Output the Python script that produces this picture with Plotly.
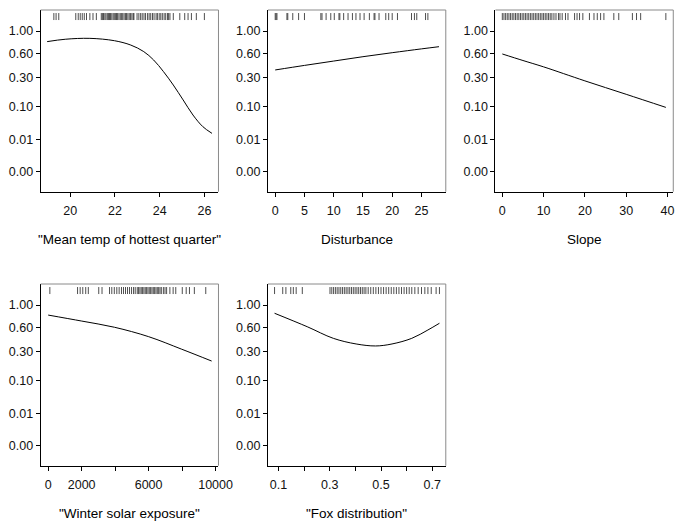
import plotly.graph_objects as go

# ---------------- data ----------------
# y axis: partial-effect scale (arbitrary units), labels are back-transformed probabilities
y_tick_vals = [1.10, 2.86, 4.70, 6.30, 7.62, 8.84]
y_tick_text = ["0.00", "0.01", "0.10", "0.30", "0.60", "1.00"]
y_range = [0, 10]
rug_level = 9.64

# Panel 1: Mean temp of hottest quarter
temp_x = [18.97, 19.78, 20.88, 21.98, 22.71, 23.29, 23.73, 24.17, 24.61, 25.05, 25.49, 25.93, 26.34]
temp_y = [8.26, 8.39, 8.44, 8.31, 8.07, 7.71, 7.25, 6.61, 5.87, 5.05, 4.22, 3.58, 3.21]
temp_rug = [19.27, 19.37, 19.49, 20.25, 20.36, 20.45, 20.54, 20.63, 20.73, 20.88, 21.02, 21.17,
            21.39, 21.44, 21.49, 21.55, 21.6, 21.66, 21.71, 21.76, 21.8, 21.86, 21.92, 21.97,
            22.02, 22.07, 22.12, 22.18, 22.24, 22.3, 22.35, 22.41, 22.47, 22.52, 22.58, 22.64,
            22.7, 22.76, 22.82, 22.85, 22.99, 23.07, 23.15, 23.22, 23.3, 23.37, 23.46, 23.53,
            23.6, 23.68, 23.75, 23.84, 23.9, 23.98, 24.05, 24.12, 24.2, 24.27, 24.35, 24.4,
            24.46, 24.61, 24.9, 25.12, 25.27, 25.42, 25.64, 26.0]
temp_ticks = [20, 22, 24, 26]
temp_ticktext = ["20", "22", "24", "26"]
temp_range = [18.68, 26.63]

# Panel 2: Disturbance
dist_x = [0, 5, 10, 15, 20, 25, 28]
dist_y = [6.70, 6.95, 7.19, 7.43, 7.65, 7.86, 7.98]
dist_rug = [0, 0.15, 0.3, 2, 2.15, 3, 4, 5, 7.8, 8, 8.7, 9.5, 10.1, 10.9, 11.05, 11.7, 12.45,
            13.2, 13.8, 14.5, 15.2, 16.1, 16.9, 17.05, 17.75, 18.9, 19.4, 20, 20.9, 23.3,
            23.8, 24.2, 25.7, 26.1]
dist_ticks = [0, 5, 10, 15, 20, 25]
dist_ticktext = ["0", "5", "10", "15", "20", "25"]
dist_range = [-1.24, 29.16]

# Panel 3: Slope
slope_x = [0, 5, 10, 20, 30, 39.6]
slope_y = [7.58, 7.22, 6.87, 6.10, 5.36, 4.64]
slope_rug = [0.0, 0.4, 0.8, 1.2, 1.6, 2.0, 2.4, 2.8, 3.2, 3.6, 4.0, 4.4, 4.8, 5.2, 5.6, 6.0,
             6.4, 6.8, 7.2, 7.6, 8.0, 8.4, 8.8, 9.2, 9.6, 10.0, 10.4, 10.8, 11.2, 11.6, 12.0,
             12.5, 13.0, 13.6, 13.96, 14.5, 15.3, 15.9, 17.5, 18.1, 18.7, 19.5, 21.1, 22.2,
             23.0, 23.8, 24.6, 27.0, 28.2, 31.5, 32.5, 33.5, 39.6]
slope_ticks = [0, 10, 20, 30, 40]
slope_ticktext = ["0", "10", "20", "30", "40"]
slope_range = [-1.66, 41.4]

# Panel 4: Winter solar exposure
solar_x = [0, 2006, 3957, 6006, 7953, 9766]
solar_y = [8.29, 7.96, 7.62, 7.10, 6.42, 5.76]
solar_rug = [99, 1754, 1910, 2066, 2242, 2398, 3021, 3216, 3665, 3800, 3950, 4100, 4240, 4380,
             4500, 4620, 4740, 4860, 4980, 5100, 5200, 5322, 5400, 5480, 5560, 5640, 5720,
             5800, 5880, 5960, 6040, 6120, 6200, 6280, 6360, 6440, 6520, 6600, 6680, 6760,
             6883, 6980, 7076, 7271, 7466, 7622, 8012, 8246, 8441, 8733, 9415]
solar_ticks = [0, 2000, 4000, 6000, 8000, 10000]
solar_ticktext = ["0", "2000", "", "6000", "", "10000"]
solar_range = [-450, 10175]

# Panel 5: Fox distribution
fox_x = [0.0847, 0.212, 0.314, 0.403, 0.479, 0.543, 0.620, 0.683, 0.728]
fox_y = [8.39, 7.65, 7.01, 6.70, 6.59, 6.70, 7.01, 7.47, 7.84]
fox_rug = [0.0847, 0.1166, 0.129, 0.148, 0.158, 0.169, 0.193, 0.301, 0.308, 0.315, 0.322,
           0.329, 0.336, 0.343, 0.35, 0.357, 0.364, 0.371, 0.378, 0.385, 0.392, 0.399, 0.406,
           0.413, 0.42, 0.427, 0.434, 0.441, 0.45, 0.46, 0.47, 0.48, 0.49, 0.5, 0.51, 0.52,
           0.53, 0.54, 0.55, 0.56, 0.57, 0.58, 0.59, 0.6, 0.61, 0.62, 0.632, 0.645, 0.658,
           0.671, 0.683, 0.696, 0.715, 0.728]
fox_ticks = [0.1, 0.2, 0.3, 0.4, 0.5, 0.6, 0.7]
fox_ticktext = ["0.1", "", "0.3", "", "0.5", "", "0.7"]
fox_range = [0.059, 0.7527]

titles = ['"Mean temp of hottest quarter"', "Disturbance", "Slope",
          '"Winter solar exposure"', '"Fox distribution"']

# ---------------- layout ----------------
W, H = 691, 522
col_left = [41.5, 273.5, 505.7]
panel_w = 181.5
row_top = [10, 284]
panel_h = 181.7

panels = [
    (temp_x, temp_y, temp_rug, temp_ticks, temp_ticktext, temp_range, 0, 0),
    (dist_x, dist_y, dist_rug, dist_ticks, dist_ticktext, dist_range, 0, 1),
    (slope_x, slope_y, slope_rug, slope_ticks, slope_ticktext, slope_range, 0, 2),
    (solar_x, solar_y, solar_rug, solar_ticks, solar_ticktext, solar_range, 1, 0),
    (fox_x, fox_y, fox_rug, fox_ticks, fox_ticktext, fox_range, 1, 1),
]

FONT = "Liberation Sans, Arial, Helvetica, sans-serif"
fig = go.Figure()
layout = dict(width=W, height=H, margin=dict(l=0, r=0, t=0, b=0),
              paper_bgcolor="white", plot_bgcolor="white", showlegend=False,
              font=dict(family=FONT, size=12, color="black"))
shapes = []
annotations = []

for i, (px, py, rug, tv, tt, xr, row, col) in enumerate(panels):
    n = "" if i == 0 else str(i + 1)
    xa, ya = "x" + n, "y" + n
    l = col_left[col]
    r = l + panel_w
    t = row_top[row]
    b = t + panel_h
    xdom = [l / W, r / W]
    ydom = [1 - b / H, 1 - t / H]
    layout["xaxis" + n] = dict(domain=xdom, anchor=ya, range=xr, tickvals=tv, ticktext=tt,
                               showgrid=False, zeroline=False, showline=True,
                               linecolor="black", linewidth=1, ticks="outside", ticklen=4,
                               tickcolor="black", ticklabelstandoff=3,
                               tickfont=dict(size=12.5, family=FONT, color="#111"))
    layout["yaxis" + n] = dict(domain=ydom, anchor=xa, range=y_range, tickvals=y_tick_vals,
                               ticktext=y_tick_text, showgrid=False, zeroline=False,
                               showline=True, linecolor="black", linewidth=1,
                               ticks="outside", ticklen=4, tickcolor="black",
                               tickfont=dict(size=12.5, family=FONT, color="#111"))
    # gray top/right frame
    shapes.append(dict(type="line", xref=xa + " domain", yref=ya + " domain",
                       x0=0, x1=1, y0=1, y1=1, line=dict(color="#8a8a8a", width=1)))
    shapes.append(dict(type="line", xref=xa + " domain", yref=ya + " domain",
                       x0=1, x1=1, y0=0, y1=1, line=dict(color="#8a8a8a", width=1)))
    fig.add_trace(go.Scatter(x=px, y=py, mode="lines", line=dict(color="black", width=1,
                             shape="spline", smoothing=1.0), xaxis=xa, yaxis=ya,
                             hoverinfo="skip"))
    fig.add_trace(go.Scatter(x=rug, y=[rug_level] * len(rug), mode="markers",
                             marker=dict(symbol="line-ns", size=5,
                                         line=dict(width=0.8, color="#222")),
                             xaxis=xa, yaxis=ya, hoverinfo="skip"))
    annotations.append(dict(text=titles[i], xref="paper", yref="paper",
                            x=(l + r) / 2 / W, y=1 - (b + 48) / H, xanchor="center",
                            yanchor="middle", showarrow=False,
                            font=dict(size=13.5, family=FONT, color="black")))

layout["shapes"] = shapes
layout["annotations"] = annotations
fig.update_layout(**layout)
fig.write_html("out.html")
